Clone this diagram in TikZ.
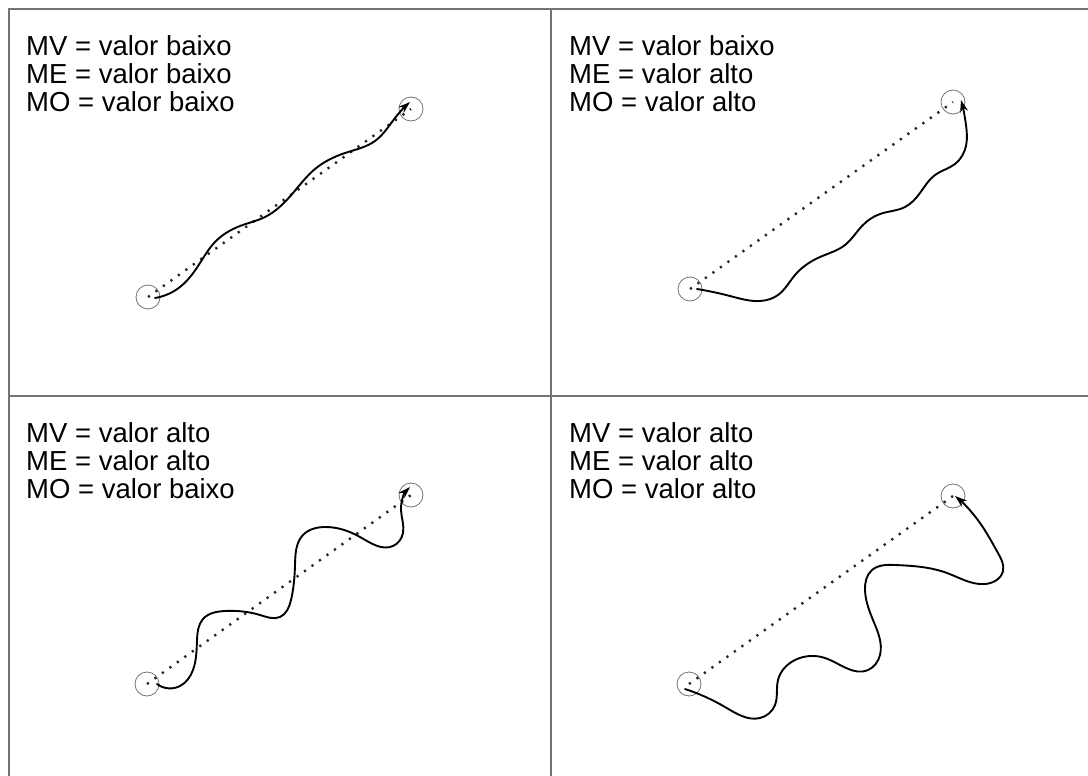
\documentclass[tikz,border=0pt]{standalone}
\usepackage{fontspec}
\setmainfont{Liberation Sans}
\usetikzlibrary{arrows.meta,hobby}
\begin{document}
\begin{tikzpicture}[x=1pt,y=-1pt,
  frame/.style={draw=black!55,line width=1.3pt},
  lbl/.style={anchor=base west,inner sep=0pt,font=\fontsize{27.5}{28}\selectfont},
  endpt/.style={circle,draw=black!55,line width=0.8pt,minimum size=24pt,inner sep=0pt},
  direct/.style={line width=2.4pt,dash pattern=on 2.2pt off 7pt,black!85},
  path/.style={line width=1.9pt,-{Stealth[length=12pt,width=8pt]},line cap=round,use Hobby shortcut},
]
\useasboundingbox (0,0) rectangle (1088,776);
% frame lines
\coordinate (tl) at (9,9);
\coordinate (tr) at (1088,9);
\coordinate (bl) at (9,776);
\coordinate (vt) at (551,9);
\coordinate (vb) at (551,776);
\coordinate (hl) at (9,396);
\coordinate (hr) at (1088,396);
\draw[frame] (tr) -- (tl) -- (bl);
\draw[frame] (vt) -- (vb);
\draw[frame] (hl) -- (hr);

% labels
\node[lbl] (t1a) at (26,56) {MV = valor baixo};
\node[lbl] (t1b) at (26,84) {ME = valor baixo};
\node[lbl] (t1c) at (26,112) {MO = valor baixo};
\node[lbl] (t2a) at (569,56) {MV = valor baixo};
\node[lbl] (t2b) at (569,84) {ME = valor alto};
\node[lbl] (t2c) at (569,112) {MO = valor alto};
\node[lbl] (t3a) at (26,442) {MV = valor alto};
\node[lbl] (t3b) at (26,470) {ME = valor alto};
\node[lbl] (t3c) at (26,498) {MO = valor baixo};
\node[lbl] (t4a) at (569,442) {MV = valor alto};
\node[lbl] (t4b) at (569,470) {ME = valor alto};
\node[lbl] (t4c) at (569,498) {MO = valor alto};

% panel 1
\node[endpt] (s1) at (148,297) {};
\node[endpt] (e1) at (411,109) {};
\draw[direct] (s1.center) -- (e1.center);
\draw[path] (155,298) .. (180,287) .. (200,263) .. (215,242) .. (240,226) .. (265,217) .. (293,193) .. (315,169) .. (345,153) .. (375,141) .. (395,118) .. (410,102);

% panel 2
\node[endpt] (s2) at (690,289) {};
\node[endpt] (e2) at (953,102) {};
\draw[direct] (s2.center) -- (e2.center);
\draw[path] (697,289) .. (730,296) .. (760,301) .. (778,295) .. (795,275) .. (820,257) .. (845,245) .. (862,226) .. (880,214) .. (905,207) .. (920,193) .. (935,175) .. (955,164) .. (966,146) .. (966,125) .. (961,100);

% panel 3
\node[endpt] (s3) at (147,684) {};
\node[endpt] (e3) at (411,495) {};
\draw[direct] (s3.center) -- (e3.center);
\draw[path] (157,684) .. (180,686) .. (193,670) .. (197,640) .. (203,619) .. (225,611) .. (260,615) .. (280,617) .. (291,600) .. (295,565) .. (303,535) .. (325,527) .. (360,537) .. (393,546) .. (403,533) .. (401,510) .. (410,487);

% panel 4
\node[endpt] (s4) at (689,684) {};
\node[endpt] (e4) at (953,496) {};
\draw[direct] (s4.center) -- (e4.center);
\draw[path] (685,689) .. (725,707) .. (760,718) .. (775,705) .. (778,680) .. (795,660) .. (825,658) .. (868,670) .. (880,655) .. (873,620) .. (865,590) .. (872,570) .. (895,565) .. (947,573) .. (985,584) .. (1003,571) .. (998,553) .. (980,523) .. (955,496);
\end{tikzpicture}
\end{document}
